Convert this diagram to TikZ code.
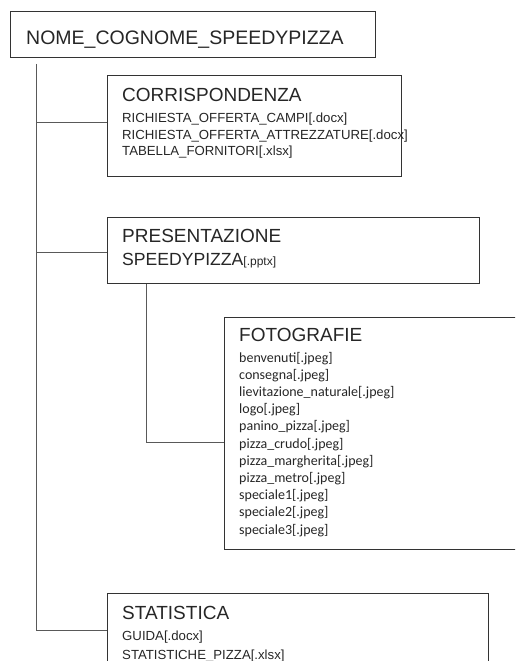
\documentclass[tikz,border=0pt]{standalone}
\usepackage{fontspec}
\setmainfont{Liberation Sans}
\newfontfamily\calibri{Carlito}
\begin{document}
\begin{tikzpicture}[x=1pt,y=-1pt,
folder/.style={draw=black!80,rectangle,line width=0.9pt,anchor=north west,inner sep=0pt},
title/.style={anchor=base west,inner sep=0pt,text=black!85,font=\fontsize{19}{19}\selectfont},
docfile/.style={anchor=base west,inner sep=0pt,text=black!85,font=\fontsize{13.2}{13.2}\selectfont},
photo/.style={anchor=base west,inner sep=0pt,text=black!85,font=\calibri\fontsize{14}{14}\selectfont},
branch/.style={draw=black!65,line width=0.9pt}]

\useasboundingbox (0,0) rectangle (515,661);
\clip (0,0) rectangle (515,661);

% root folder
\node[folder,minimum width=365pt,minimum height=46pt] (root) at (10,11) {};
\node[title,font=\fontsize{19.5}{19.5}\selectfont] (rootname) at (26,44.5) {NOME\_COGNOME\_SPEEDYPIZZA};

% subfolders
\node[folder,minimum width=294pt,minimum height=101pt] (corr) at (107,75) {};
\node[title] (corrname) at (122,101.5) {CORRISPONDENZA};
\foreach \f [count=\i] in {RICHIESTA\_OFFERTA\_CAMPI[.docx],RICHIESTA\_OFFERTA\_ATTREZZATURE[.docx],TABELLA\_FORNITORI[.xlsx]}
  \node[docfile] (corr\i) at (122,{122.5+16.5*(\i-1)}) {\f};

\node[folder,minimum width=372pt,minimum height=66pt] (pres) at (107,217) {};
\node[title] (presname) at (122,242) {PRESENTAZIONE};
\node[docfile,font=\fontsize{17.6}{17.6}\selectfont] (pres1) at (122,265) {SPEEDYPIZZA{\fontsize{12}{12}\selectfont[.pptx]}};

\node[folder,minimum width=300pt,minimum height=232pt] (foto) at (224,317) {};
\node[title] (fotoname) at (239,341) {FOTOGRAFIE};
\foreach \f [count=\i] in {benvenuti,consegna,lievitazione\_naturale,logo,panino\_pizza,pizza\_crudo,pizza\_margherita,pizza\_metro,speciale1,speciale2,speciale3}
  \node[photo] (foto\i) at (239,{362+17.2*(\i-1)}) {\f[.jpeg]};

\node[folder,minimum width=381pt,minimum height=74pt] (stat) at (107,593) {};
\node[title] (statname) at (122,619) {STATISTICA};
\node[docfile] (stat1) at (122,640) {GUIDA[.docx]};
\node[docfile] (stat2) at (122,659) {STATISTICHE\_PIZZA[.xlsx]};

% tree branches
\coordinate (trunk) at (36,64);
\draw[branch] (trunk) |- (stat.west);
\draw[branch] ([yshift=4pt]corr.west) -| (trunk);
\draw[branch] ([yshift=-2pt]pres.west) -| (trunk);
\draw[branch] ([xshift=39pt]pres.south west) |- ([yshift=-9pt]foto.west);
\end{tikzpicture}
\end{document}
